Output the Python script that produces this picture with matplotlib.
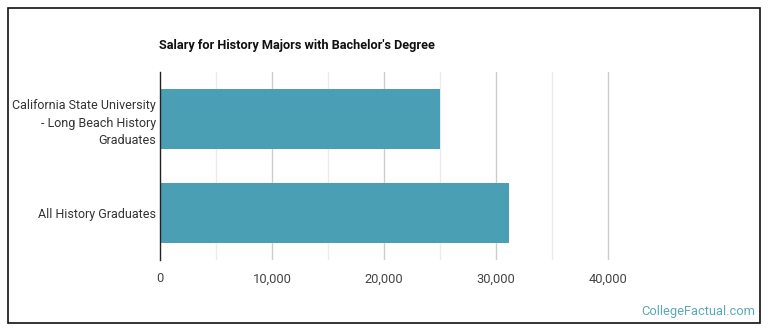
import numpy as np
import matplotlib
matplotlib.use('Agg')
import matplotlib.pyplot as plt
from matplotlib.patches import Rectangle

plt.rcParams['font.family'] = ['Roboto', 'DejaVu Sans']

# data
categories = ['California State University\n- Long Beach History\nGraduates',
              'All History Graduates']
salaries = [25000, 31150]
major_ticks = [0, 10000, 20000, 30000, 40000]
minor_ticks = [5000, 15000, 25000, 35000]
tick_labels = ['0', '10,000', '20,000', '30,000', '40,000']

bar_color = '#4a9fb4'

fig = plt.figure(figsize=(7.7, 3.35), dpi=100)
ax = fig.add_axes([160/770, 1-260/335, 560/770, 188/335])

ypos = np.arange(len(categories))
ax.barh(ypos, salaries, height=0.64, color=bar_color, zorder=3)
ax.set_ylim(1.5, -0.5)
ax.set_xlim(0, 50000)

# grid lines, drawn only up to 40,000
for x in major_ticks[1:]:
    ax.axvline(x, color='#cccccc', linewidth=1, zorder=1)
for x in minor_ticks:
    ax.axvline(x, color='#ebebeb', linewidth=1, zorder=1)

ax.set_xticks(major_ticks)
ax.set_xticklabels(tick_labels, fontsize=9.3, color='#444444')
ax.set_yticks(ypos)
ax.set_yticklabels(categories, fontsize=9, color='#333333', linespacing=1.5)
ax.tick_params(axis='both', length=0)
ax.tick_params(axis='x', pad=9)
ax.tick_params(axis='y', pad=3)

for s in ['top', 'right', 'bottom']:
    ax.spines[s].set_visible(False)
ax.spines['left'].set_color('#222222')
ax.spines['left'].set_linewidth(1)
ax.spines['left'].set_zorder(4)

fig.text(159/770, 1-45/335, "Salary for History Majors with Bachelor's Degree",
         fontsize=9.2, fontweight='bold', color='#111111', ha='left', va='center')
fig.text(755/770, 1-311/335, 'CollegeFactual.com', fontsize=9.3,
         color='#5aa8b8', ha='right', va='center')

# outer frame
fig.patches.append(Rectangle((8/770, 1-323/335), 752/770, 315/335,
                             transform=fig.transFigure, fill=False,
                             edgecolor='#111111', linewidth=1.2))

plt.savefig('out.png', dpi=100)
